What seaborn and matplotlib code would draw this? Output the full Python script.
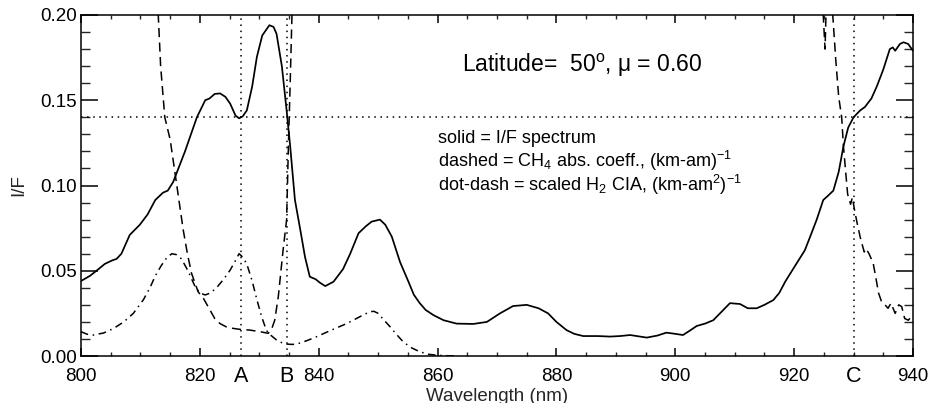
import numpy as np
import pandas as pd
import matplotlib
matplotlib.use("Agg")
import matplotlib.pyplot as plt
import matplotlib.transforms as mtransforms
from matplotlib.ticker import MultipleLocator, FormatStrFormatter
import seaborn as sns

# ---------------- data ----------------
if_wl = [800.0, 801.5, 802.6, 804.0, 805.2, 806.0, 806.8, 808.2, 809.9, 811.2,
         812.5, 813.8, 814.6, 815.5, 817.5, 819.5, 820.9, 821.6, 822.5, 823.4,
         824.3, 825.1, 826.0, 826.6, 827.2, 827.9, 828.8, 829.6, 830.5, 831.7,
         832.4, 832.9, 833.8, 834.6, 835.2, 836.0, 836.9, 837.7, 838.5, 839.5,
         840.2, 841.1, 842.5, 844.1, 845.3, 846.7, 847.9, 848.9, 850.3, 851.2,
         852.3, 853.7, 855.1, 856.0, 857.0, 858.0, 859.3, 861.0, 863.2, 866.0,
         868.3, 870.5, 872.7, 875.0, 877.0, 878.6, 880.0, 881.7, 883.0, 884.5,
         887.0, 889.0, 890.7, 892.4, 895.2, 897.0, 898.5, 900.0, 901.3, 902.5,
         903.6, 905.0, 906.4, 907.8, 909.2, 910.9, 912.2, 913.7, 915.0, 916.5,
         917.5, 918.5, 920.0, 921.8, 922.7, 923.8, 924.9, 925.7, 926.6, 927.5,
         928.3, 929.1, 930.0, 931.1, 931.9, 933.0, 933.9, 935.0, 936.1, 936.6,
         937.0, 937.8, 938.4, 939.2, 940.0]
if_val = [0.044, 0.047, 0.050, 0.054, 0.056, 0.057, 0.060, 0.071, 0.077, 0.083,
          0.0915, 0.0958, 0.097, 0.102, 0.120, 0.140, 0.150, 0.151, 0.1537, 0.154,
          0.152, 0.148, 0.141, 0.1394, 0.1405, 0.144, 0.158, 0.1755, 0.188, 0.194,
          0.193, 0.189, 0.170, 0.144, 0.123, 0.0915, 0.074, 0.058, 0.0465, 0.045,
          0.043, 0.041, 0.0436, 0.051, 0.060, 0.072, 0.076, 0.0788, 0.080, 0.077,
          0.070, 0.055, 0.0436, 0.036, 0.031, 0.027, 0.024, 0.021, 0.019, 0.0188,
          0.020, 0.025, 0.0293, 0.030, 0.028, 0.025, 0.020, 0.0152, 0.013, 0.0117,
          0.0117, 0.0114, 0.0117, 0.0123, 0.0108, 0.012, 0.0137, 0.013, 0.0123, 0.015,
          0.0176, 0.019, 0.021, 0.026, 0.031, 0.0305, 0.028, 0.028, 0.030, 0.0328,
          0.037, 0.0436, 0.052, 0.062, 0.070, 0.080, 0.0915, 0.094, 0.097, 0.108,
          0.123, 0.134, 0.140, 0.144, 0.146, 0.151, 0.158, 0.168, 0.180, 0.181,
          0.179, 0.183, 0.184, 0.183, 0.179]

ch4_wl = [812.3, 813.0, 813.4, 814.1, 815.0, 816.0, 816.7, 817.2, 817.9, 818.6,
          819.7, 820.6, 821.7, 822.5, 823.4, 824.5, 825.6, 826.8, 828.4, 830.1,
          831.5, 832.1, 832.6, 833.2, 834.0, 834.6, 834.9, 835.2, 835.5, 836.0,
          924.3, 924.9, 925.2, 925.6, 926.2, 926.5, 927.0, 927.5, 928.0, 928.3,
          928.6, 929.0, 929.5, 929.8, 930.2, 930.6, 931.1, 931.4, 931.8, 932.1,
          932.6, 933.3, 933.8, 934.2, 934.7, 935.3, 935.8, 936.3, 937.0, 937.6,
          938.1, 938.6, 939.2, 940.0]
ch4_val = [0.26, 0.200, 0.170, 0.140, 0.127, 0.103, 0.086, 0.074, 0.060, 0.0485,
           0.0377, 0.0338, 0.027, 0.022, 0.019, 0.017, 0.0162, 0.0156, 0.0152, 0.0143,
           0.0133, 0.016, 0.021, 0.0348, 0.062, 0.080, 0.123, 0.160, 0.200, 0.30,
           0.30, 0.200, 0.180, 0.230, 0.230, 0.200, 0.174, 0.152, 0.140, 0.123,
           0.111, 0.095, 0.089, 0.093, 0.085, 0.078, 0.070, 0.066, 0.061, 0.063,
           0.060, 0.0545, 0.045, 0.037, 0.032, 0.030, 0.028, 0.031, 0.025, 0.030,
           0.029, 0.022, 0.021, 0.024]

h2_wl = [800.0, 801.0, 802.1, 803.8, 805.4, 807.2, 808.8, 810.5, 811.6, 812.5,
         813.5, 814.5, 815.3, 816.0, 816.9, 818.0, 819.2, 820.0, 820.9, 821.8,
         822.8, 824.0, 825.1, 826.0, 826.6, 827.2, 827.9, 828.8, 829.6, 830.4,
         831.2, 832.0, 832.9, 833.8, 834.6, 835.5, 836.3, 838.0, 839.7, 842.0,
         844.7, 846.9, 848.6, 849.3, 850.0, 851.0, 852.0, 853.0, 854.2, 855.5,
         857.0, 858.5, 860.0, 863.0]
h2_val = [0.0143, 0.0128, 0.0123, 0.0135, 0.016, 0.020, 0.025, 0.033, 0.040, 0.047,
          0.053, 0.058, 0.060, 0.0595, 0.057, 0.050, 0.0407, 0.037, 0.0358, 0.037,
          0.040, 0.045, 0.0504, 0.056, 0.060, 0.058, 0.054, 0.044, 0.033, 0.023,
          0.015, 0.012, 0.0094, 0.0078, 0.007, 0.0068, 0.007, 0.009, 0.0114, 0.015,
          0.019, 0.023, 0.026, 0.0262, 0.025, 0.021, 0.0172, 0.013, 0.0084, 0.005,
          0.0025, 0.001, 0.0004, 0.0]

marker_wl = [827.0, 834.6, 930.0]
marker_labels = ["A", "B", "C"]
if_level = 0.14

x_ticks = [800, 820, 840, 860, 880, 900, 920, 940]
y_ticks = [0.00, 0.05, 0.10, 0.15, 0.20]

title_text = "Latitude=  50$^{\\mathrm{o}}$, μ = 0.60"
legend_lines = ["solid = I/F spectrum",
                "dashed = CH$_4$ abs. coeff., (km-am)$^{-1}$",
                "dot-dash = scaled H$_2$ CIA, (km-am$^2$)$^{-1}$"]

# ---------------- style ----------------
sns.set_theme(style="ticks")
plt.rcParams["font.family"] = ["Liberation Sans", "DejaVu Sans"]
plt.rcParams["mathtext.fontset"] = "custom"
plt.rcParams["mathtext.rm"] = "Liberation Sans"
plt.rcParams["mathtext.it"] = "Liberation Sans:italic"
plt.rcParams["mathtext.bf"] = "Liberation Sans:bold"
plt.rcParams["axes.linewidth"] = 1.1

fig = plt.figure(figsize=(9.3, 4.03), dpi=100)
ax = fig.add_axes([0.0871, 0.1166, 0.8946, 0.8462])

df_if = pd.DataFrame({"wl": if_wl, "val": if_val})
df_ch4 = pd.DataFrame({"wl": ch4_wl, "val": ch4_val})
df_h2 = pd.DataFrame({"wl": h2_wl, "val": h2_val})

sns.lineplot(data=df_if, x="wl", y="val", ax=ax, color="black", lw=1.25,
             estimator=None, sort=False)
sns.lineplot(data=df_ch4, x="wl", y="val", ax=ax, color="black", lw=1.1,
             estimator=None, sort=False, linestyle=(0, (6, 3.5)))
sns.lineplot(data=df_h2, x="wl", y="val", ax=ax, color="black", lw=1.1,
             estimator=None, sort=False, linestyle=(0, (5, 3, 1, 3)))

dot = (0, (1, 3))
ax.axhline(if_level, color="black", lw=1.1, ls=dot)
for xv in marker_wl:
    ax.axvline(xv, color="black", lw=1.1, ls=dot)

ax.set_xlim(800, 940)
ax.set_ylim(0.0, 0.20)
ax.set_xticks(x_ticks)
ax.set_yticks(y_ticks)
ax.yaxis.set_major_formatter(FormatStrFormatter("%.2f"))
ax.xaxis.set_minor_locator(MultipleLocator(5))
ax.yaxis.set_minor_locator(MultipleLocator(0.01))

ax.tick_params(axis="x", which="major", direction="in", top=True, bottom=True,
               length=6.0, width=1.1, pad=8.6, labelsize=13.5, colors="black")
ax.tick_params(axis="x", which="minor", direction="in", top=True, bottom=True,
               length=3.0, width=1.0)
ax.tick_params(axis="y", which="major", direction="in", left=True, right=True,
               length=12.0, width=1.1, pad=3, labelsize=13.5, colors="black")
ax.tick_params(axis="y", which="minor", direction="in", left=True, right=True,
               length=6.5, width=1.0)
for s in ax.spines.values():
    s.set_visible(True)
    s.set_color("black")
    s.set_linewidth(1.1)

ax.set_xlabel("Wavelength (nm)", fontsize=13.5, labelpad=2)
ax.set_ylabel("I/F", fontsize=13.5, labelpad=9)

trans = mtransforms.blended_transform_factory(ax.transData, ax.transAxes)
for xv, lab in zip(marker_wl, marker_labels):
    ax.text(xv, -0.030, lab, transform=trans, ha="center", va="top",
            fontsize=15.5, color="black")

ax.text(864.1, 0.1666, title_text, ha="left", va="baseline", fontsize=16.5,
        color="black")
for i, line in enumerate(legend_lines):
    ax.text(860.1, 0.1251 - i * 0.0143, line, ha="left", va="baseline",
            fontsize=13, color="black")

fig.savefig("out.png", dpi=100)
